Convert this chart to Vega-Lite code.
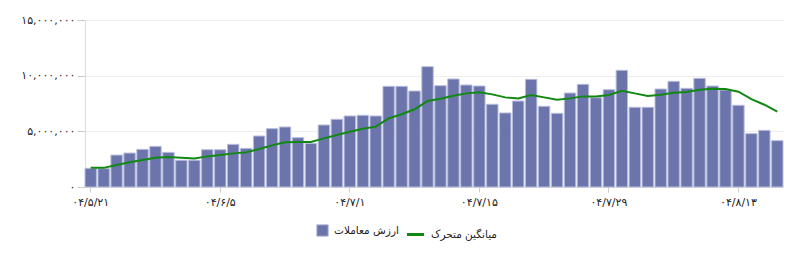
{
  "$schema": "https://vega.github.io/schema/vega-lite/v6.json",
  "width": 698,
  "height": 167,
  "autosize": {"type": "none"},
  "padding": {"left": 85, "top": 20, "right": 17, "bottom": 68},
  "background": "white",
  "config": {
    "view": {"stroke": null},
    "font": "DejaVu Sans",
    "axis": {"labelFont": "DejaVu Sans", "labelColor": "#222", "labelFontSize": 11}
  },
  "data": {
    "values": [
      {"d": "۰۴/۵/۲۱", "v": 1680000, "ma": 1730000},
      {"d": "۰۴/۵/۲۲", "v": 1650000, "ma": 1720000},
      {"d": "۰۴/۵/۲۵", "v": 2870000, "ma": 1980000},
      {"d": "۰۴/۵/۲۷", "v": 3050000, "ma": 2220000},
      {"d": "۰۴/۵/۲۸", "v": 3380000, "ma": 2430000},
      {"d": "۰۴/۵/۲۹", "v": 3650000, "ma": 2630000},
      {"d": "۰۴/۶/۱", "v": 3110000, "ma": 2690000},
      {"d": "۰۴/۶/۲", "v": 2400000, "ma": 2630000},
      {"d": "۰۴/۶/۳", "v": 2400000, "ma": 2570000},
      {"d": "۰۴/۶/۴", "v": 3350000, "ma": 2750000},
      {"d": "۰۴/۶/۵", "v": 3350000, "ma": 2870000},
      {"d": "۰۴/۶/۸", "v": 3830000, "ma": 3020000},
      {"d": "۰۴/۶/۱۰", "v": 3470000, "ma": 3110000},
      {"d": "۰۴/۶/۱۲", "v": 4580000, "ma": 3410000},
      {"d": "۰۴/۶/۱۵", "v": 5240000, "ma": 3740000},
      {"d": "۰۴/۶/۱۷", "v": 5390000, "ma": 4010000},
      {"d": "۰۴/۶/۱۹", "v": 4430000, "ma": 4040000},
      {"d": "۰۴/۶/۲۲", "v": 3920000, "ma": 4040000},
      {"d": "۰۴/۶/۲۵", "v": 5570000, "ma": 4370000},
      {"d": "۰۴/۶/۲۹", "v": 6080000, "ma": 4670000},
      {"d": "۰۴/۷/۱", "v": 6380000, "ma": 4970000},
      {"d": "۰۴/۷/۲", "v": 6440000, "ma": 5240000},
      {"d": "۰۴/۷/۵", "v": 6380000, "ma": 5420000},
      {"d": "۰۴/۷/۶", "v": 9040000, "ma": 6170000},
      {"d": "۰۴/۷/۷", "v": 9040000, "ma": 6530000},
      {"d": "۰۴/۷/۸", "v": 8620000, "ma": 6980000},
      {"d": "۰۴/۷/۹", "v": 10810000, "ma": 7720000},
      {"d": "۰۴/۷/۱۲", "v": 9100000, "ma": 7930000},
      {"d": "۰۴/۷/۱۳", "v": 9700000, "ma": 8200000},
      {"d": "۰۴/۷/۱۴", "v": 9160000, "ma": 8410000},
      {"d": "۰۴/۷/۱۵", "v": 9070000, "ma": 8500000},
      {"d": "۰۴/۷/۱۶", "v": 7430000, "ma": 8320000},
      {"d": "۰۴/۷/۱۹", "v": 6650000, "ma": 8050000},
      {"d": "۰۴/۷/۲۰", "v": 7720000, "ma": 7960000},
      {"d": "۰۴/۷/۲۱", "v": 9670000, "ma": 8260000},
      {"d": "۰۴/۷/۲۲", "v": 7250000, "ma": 8050000},
      {"d": "۰۴/۷/۲۳", "v": 6620000, "ma": 7840000},
      {"d": "۰۴/۷/۲۶", "v": 8440000, "ma": 7960000},
      {"d": "۰۴/۷/۲۷", "v": 9220000, "ma": 8140000},
      {"d": "۰۴/۷/۲۸", "v": 8020000, "ma": 8140000},
      {"d": "۰۴/۷/۲۹", "v": 8740000, "ma": 8260000},
      {"d": "۰۴/۷/۳۰", "v": 10480000, "ma": 8650000},
      {"d": "۰۴/۸/۳", "v": 7160000, "ma": 8410000},
      {"d": "۰۴/۸/۴", "v": 7160000, "ma": 8170000},
      {"d": "۰۴/۸/۵", "v": 8800000, "ma": 8290000},
      {"d": "۰۴/۸/۶", "v": 9490000, "ma": 8470000},
      {"d": "۰۴/۸/۷", "v": 8860000, "ma": 8530000},
      {"d": "۰۴/۸/۱۰", "v": 9760000, "ma": 8740000},
      {"d": "۰۴/۸/۱۱", "v": 9070000, "ma": 8830000},
      {"d": "۰۴/۸/۱۲", "v": 8710000, "ma": 8800000},
      {"d": "۰۴/۸/۱۳", "v": 7340000, "ma": 8560000},
      {"d": "۰۴/۸/۱۴", "v": 4790000, "ma": 7900000},
      {"d": "۰۴/۸/۱۷", "v": 5090000, "ma": 7390000},
      {"d": "۰۴/۸/۱۸", "v": 4160000, "ma": 6760000}
    ]
  },
  "encoding": {
    "x": {
      "field": "d",
      "type": "ordinal",
      "sort": null,
      "scale": {"paddingInner": 0.12, "paddingOuter": 0},
      "axis": {
        "title": null,
        "values": ["۰۴/۵/۲۱", "۰۴/۶/۵", "۰۴/۷/۱", "۰۴/۷/۱۵", "۰۴/۷/۲۹", "۰۴/۸/۱۳"],
        "labelAngle": 0,
        "domainColor": "#dddddd",
        "tickColor": "#cccccc",
        "tickSize": 5,
        "labelPadding": 4,
        "grid": false
      }
    }
  },
  "layer": [
    {
      "mark": {"type": "bar", "stroke": "#b8bcdc", "strokeWidth": 1},
      "encoding": {
        "y": {
          "field": "v",
          "type": "quantitative",
          "scale": {"domain": [0, 15000000], "nice": false},
          "axis": {
            "title": null,
            "values": [0, 5000000, 10000000, 15000000],
            "gridColor": "#eeeeee",
            "domainColor": "#dddddd",
            "tickColor": "#cccccc",
            "tickSize": 8,
            "labelPadding": 2,
            "labelExpr": "replace(replace(replace(replace(replace(replace(replace(replace(replace(replace(format(datum.value, ','), regexp('0','g'), '۰'), regexp('1','g'), '۱'), regexp('2','g'), '۲'), regexp('3','g'), '۳'), regexp('4','g'), '۴'), regexp('5','g'), '۵'), regexp('6','g'), '۶'), regexp('7','g'), '۷'), regexp('8','g'), '۸'), regexp('9','g'), '۹')"
          }
        },
        "fill": {
          "datum": "ارزش معاملات",
          "type": "nominal",
          "scale": {"range": ["#6b75ab"]},
          "legend": {
            "orient": "none",
            "legendX": 231,
            "legendY": 204,
            "title": null,
            "symbolType": "square",
            "symbolSize": 130,
            "symbolStrokeColor": "#b8bcdc",
            "symbolStrokeWidth": 1,
            "labelFontSize": 10.5,
            "labelColor": "#222",
            "labelOffset": 5
          }
        }
      }
    },
    {
      "mark": {"type": "line", "strokeWidth": 2},
      "encoding": {
        "y": {"field": "ma", "type": "quantitative"},
        "stroke": {
          "datum": "میانگین متحرک",
          "type": "nominal",
          "scale": {"range": ["#118811"]},
          "legend": {
            "orient": "none",
            "legendX": 320,
            "legendY": 204,
            "title": null,
            "symbolType": "stroke",
            "symbolSize": 290,
            "symbolStrokeWidth": 3,
            "labelFontSize": 10.5,
            "labelColor": "#222",
            "labelOffset": 5
          }
        }
      }
    }
  ],
  "resolve": {"scale": {"fill": "independent", "stroke": "independent"}}
}
